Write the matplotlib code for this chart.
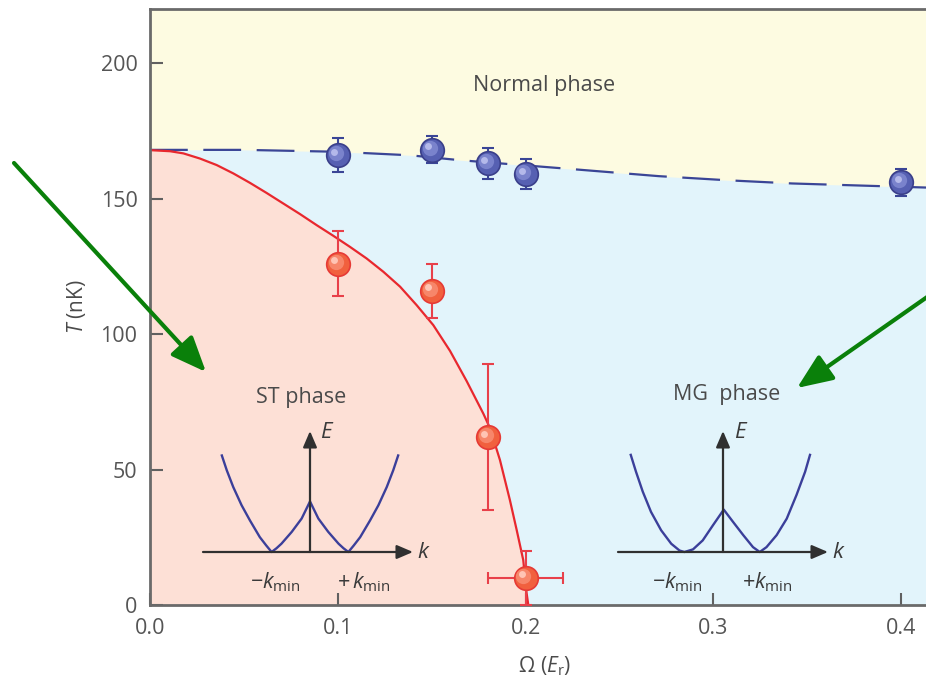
import matplotlib
matplotlib.use('Agg')
import matplotlib.pyplot as plt
import matplotlib.transforms as mtransforms
import numpy as np

plt.rcParams['font.family'] = ['Open Sans', 'DejaVu Sans']
plt.rcParams['mathtext.fontset'] = 'custom'
plt.rcParams['mathtext.rm'] = 'Open Sans'
plt.rcParams['mathtext.it'] = 'Open Sans:italic'
plt.rcParams['mathtext.bf'] = 'Open Sans:bold'

# measured transition temperatures
omega_blue = [0.10, 0.15, 0.18, 0.20, 0.40]
T_blue = [166, 168, 163, 159, 156]
T_blue_err = [6.3, 5.0, 5.7, 5.5, 5.0]

omega_red = [0.10, 0.15, 0.18, 0.20]
T_red = [126, 116, 62, 10]
T_red_err = [12, 10, 27, 10]
omega_red_err = [0, 0, 0, 0.02]

# theory boundaries
omega_normal = [0, 0.05, 0.10, 0.1385, 0.165, 0.223, 0.271, 0.307, 0.342, 0.413, 0.46]
T_normal = [168, 168, 167.3, 166, 164.2, 161, 158.3, 156.8, 155.6, 154.1, 153.2]

omega_st = [0, 0.0107, 0.0178, 0.0266, 0.0355, 0.0444, 0.0533, 0.0621, 0.0710, 0.0799,
            0.0888, 0.0976, 0.1065, 0.1154, 0.1243, 0.1332, 0.1420, 0.1509, 0.1598,
            0.1687, 0.1775, 0.1811, 0.1864, 0.1917, 0.1953, 0.1988, 0.2006, 0.2015]
T_st = [167.9, 167.5, 166.7, 164.8, 162.4, 159.3, 155.8, 152.1, 148.2, 144.3,
        140.2, 136.3, 132.2, 127.9, 123.0, 117.5, 110.7, 103.3, 93.8,
        82.6, 70.7, 65.3, 53.5, 38.7, 27.7, 16.6, 4.3, 0]

# sketch of the dispersion, ST phase (left half, mirrored)
st_k_half = [-2.32, -2.19, -2.02, -1.80, -1.58, -1.32, -1.15, -1.01, -0.88, -0.75, -0.48, -0.22, 0.0]
st_E_half = [2.54, 2.15, 1.71, 1.23, 0.83, 0.39, 0.17, 0.0, 0.10, 0.22, 0.53, 0.88, 1.33]

# sketch of the dispersion, MG phase
mg_k = [-2.46, -2.32, -2.14, -1.92, -1.65, -1.38, -1.16, -1.03, -0.80, -0.54, -0.27, 0.02,
        0.27, 0.54, 0.80, 0.98, 1.16, 1.43, 1.70, 1.96, 2.19, 2.32]
mg_E = [2.59, 2.14, 1.61, 1.07, 0.58, 0.22, 0.04, 0.0, 0.07, 0.31, 0.71, 1.13,
        0.80, 0.45, 0.13, 0.0, 0.13, 0.45, 0.89, 1.52, 2.14, 2.59]

W, H = 926, 680
fig = plt.figure(figsize=(W / 100, H / 100), dpi=100)

txt = '#4a4a4a'


def fx(x):
    return x / W


def fy(y):
    return 1 - y / H


# main axes: 0 at px 150, 0.1 per 187.75 px; T=0 at px 605, 2.71 px/nK
x_right = (1000 - 150) / 1877.5
ax = fig.add_axes([fx(150), fy(605), (1000 - 150) / W, (605 - 9) / H])
ax.set_xlim(0, x_right)
ax.set_ylim(0, 220)
ax.set_facecolor('#fdfbe1')

ax.fill_between(omega_normal, 0, T_normal, color='#e2f4fb', lw=0, zorder=1)
ax.fill_between(omega_st, 0, T_st, color='#fde0d6', lw=0, zorder=1)

ax.plot(omega_normal, T_normal, color='#3a4596', lw=1.6, dashes=(17, 7), zorder=2)
ax.plot(omega_st, T_st, color='#e8282e', lw=1.6, zorder=2)

ax.errorbar(omega_blue, T_blue, yerr=T_blue_err, fmt='none', ecolor='#3a4596',
            elinewidth=1.5, capsize=4.5, capthick=1.5, zorder=3)
ax.errorbar(omega_red, T_red, yerr=T_red_err, xerr=omega_red_err, fmt='none',
            ecolor='#e8404a', elinewidth=1.5, capsize=4, capthick=1.5, zorder=3)

# shaded balls
ax.plot(omega_blue, T_blue, 'o', ms=17, mfc='#5660b2', mec='#3a3f8a', mew=1.2, zorder=4)
ax.plot(omega_red, T_red, 'o', ms=17, mfc='#f1603e', mec='#e63a35', mew=1.2, zorder=4)
hi1 = mtransforms.offset_copy(ax.transData, fig=fig, x=-1.5, y=1.5, units='points')
hi2 = mtransforms.offset_copy(ax.transData, fig=fig, x=-2.5, y=2.5, units='points')
ax.plot(omega_blue, T_blue, 'o', ms=11, mfc='#7a83cc', mec='none', transform=hi1, zorder=5)
ax.plot(omega_blue, T_blue, 'o', ms=5, mfc='#b4b9ea', mec='none', transform=hi2, zorder=5)
ax.plot(omega_red, T_red, 'o', ms=11, mfc='#f7866a', mec='none', transform=hi1, zorder=5)
ax.plot(omega_red, T_red, 'o', ms=5, mfc='#ffc4b4', mec='none', transform=hi2, zorder=5)

ax.set_xticks([0.0, 0.1, 0.2, 0.3, 0.4])
ax.set_xticklabels(['0.0', '0.1', '0.2', '0.3', '0.4'])
ax.set_yticks([0, 50, 100, 150, 200])
ax.tick_params(direction='in', length=9, width=1.5, color='#606060',
               labelsize=15.5, labelcolor='#555555', pad=9)
for side in ['left', 'bottom', 'top']:
    ax.spines[side].set_color('#6a6a6a')
    ax.spines[side].set_linewidth(2)
ax.spines['right'].set_visible(False)

fig.text(fx(77), fy(307), r'$T$ (nK)', rotation=90, ha='center', va='center',
         fontsize=15, color=txt)
fig.text(fx(545), fy(666), r'$\Omega\ (E_\mathrm{r})$', ha='center', va='center',
         fontsize=15, color=txt)

fig.text(fx(544), fy(86), 'Normal phase', ha='center', va='center', fontsize=15.5, color=txt)
fig.text(fx(301), fy(398), 'ST phase', ha='center', va='center', fontsize=15.5, color=txt)
fig.text(fx(727), fy(394), 'MG  phase', ha='center', va='center', fontsize=15.5, color=txt)


def make_inset(ox, oy, s, x0, x1, y0, y1):
    a = fig.add_axes([fx(x0), fy(y1), (x1 - x0) / W, (y1 - y0) / H])
    a.set_xlim((x0 - ox) / s, (x1 - ox) / s)
    a.set_ylim((oy - y1) / s, (oy - y0) / s)
    a.axis('off')
    a.patch.set_alpha(0)
    return a


def draw_axes_arrows(a, ox, oy, s, left, right, top):
    props = dict(arrowstyle='-|>,head_length=0.7,head_width=0.3', color='#303030',
                 lw=1.6, mutation_scale=14, shrinkA=0, shrinkB=0)
    a.annotate('', xy=((right - ox) / s, 0), xytext=((left - ox) / s, 0), arrowprops=props)
    a.annotate('', xy=(0, (oy - top) / s), xytext=(0, 0), arrowprops=props)


lab = dict(ha='center', va='center', color='#3a3a3a')

# ST inset
st_k = [-k for k in st_k_half[::-1]]
st = make_inset(310, 552, 38, 190, 440, 415, 570)
draw_axes_arrows(st, 310, 552, 38, 203, 413, 431)
st.plot(st_k_half + st_k, st_E_half + st_E_half[::-1], color='#3b3f9a', lw=1.7)
fig.text(fx(327), fy(432), r'$E$', fontsize=16, **lab)
fig.text(fx(424), fy(552), r'$k$', fontsize=16, **lab)
fig.text(fx(275), fy(582), r'$-k_\mathrm{min}$', fontsize=15.5, **lab)
fig.text(fx(364), fy(582), r'$+\,k_\mathrm{min}$', fontsize=15.5, **lab)

# MG inset
mg = make_inset(723, 552, 37.5, 605, 850, 415, 570)
draw_axes_arrows(mg, 723, 552, 37.5, 618, 828, 431)
mg.plot(mg_k, mg_E, color='#3b3f9a', lw=1.7)
fig.text(fx(741), fy(432), r'$E$', fontsize=16, **lab)
fig.text(fx(839), fy(552), r'$k$', fontsize=16, **lab)
fig.text(fx(677), fy(582), r'$-k_\mathrm{min}$', fontsize=15.5, **lab)
fig.text(fx(767), fy(582), r'$+k_\mathrm{min}$', fontsize=15.5, **lab)

# green pointer arrows
green = dict(arrowstyle='-|>,head_length=1.8,head_width=0.75', color='#0a800a', lw=3.0,
             mutation_scale=12, shrinkA=0, shrinkB=0)
ax.annotate('', xy=(fx(206), fy(372)), xycoords='figure fraction',
            xytext=(fx(14), fy(163)), textcoords='figure fraction',
            arrowprops=green, annotation_clip=False, zorder=10)
ax.annotate('', xy=(fx(797), fy(388)), xycoords='figure fraction',
            xytext=(fx(930), fy(295)), textcoords='figure fraction',
            arrowprops=green, annotation_clip=False, zorder=10)

fig.savefig('out.png', dpi=100)
